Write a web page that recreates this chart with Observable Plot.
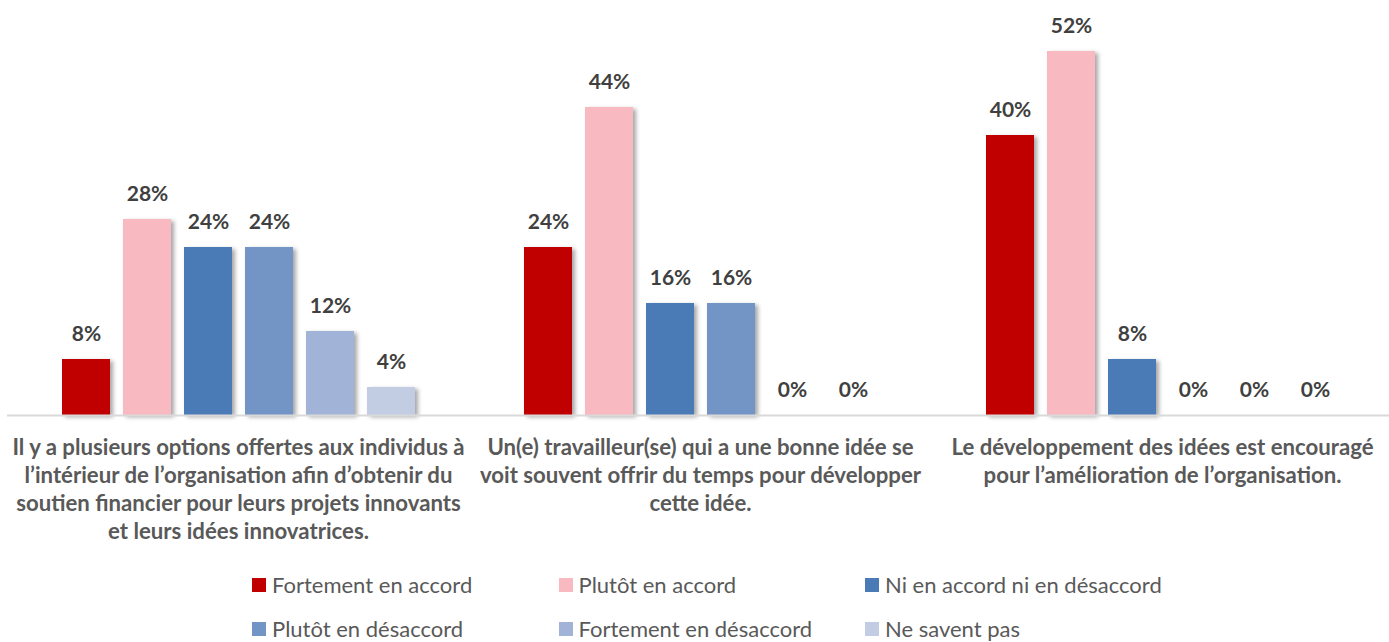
<!DOCTYPE html>
<html>
<head>
<meta charset="utf-8">
<script src="https://cdn.jsdelivr.net/npm/d3@7"></script>
<script src="https://cdn.jsdelivr.net/npm/@observablehq/plot@0.6"></script>
<style>
  html, body { margin: 0; padding: 0; background: #fff; }
  body { width: 1389px; height: 642px; overflow: hidden; font-family: Lato, "Open Sans", sans-serif; }
  #chart svg g[aria-label="bar"] rect { filter: drop-shadow(3px 2px 2px rgba(0,0,0,0.35)); }
  .legend { display: grid; grid-template-columns: repeat(3, 306.5px); row-gap: 20px; padding-left: 252px; margin-top: 18px; }
  .legend .item { display: flex; align-items: center; height: 24px; line-height: 24px; font-size: 22px; color: #595959; white-space: nowrap; }
  .legend .sw { width: 14px; height: 14px; margin-right: 6px; flex: none; }
</style>
</head>
<body>
<div id="chart"></div>
<div class="legend" id="legend"></div>
<script>
const categories = [
  "Il y a plusieurs options offertes aux individus à l’intérieur de l’organisation afin d’obtenir du soutien financier pour leurs projets innovants et leurs idées innovatrices.",
  "Un(e) travailleur(se) qui a une bonne idée se voit souvent offrir du temps pour développer cette idée.",
  "Le développement des idées est encouragé pour l’amélioration de l’organisation."
];
const categoryLabels = [
  "Il y a plusieurs options offertes aux individus à\nl’intérieur de l’organisation afin d’obtenir du\nsoutien financier pour leurs projets innovants\net leurs idées innovatrices.",
  "Un(e) travailleur(se) qui a une bonne idée se\nvoit souvent offrir du temps pour développer\ncette idée.",
  "Le développement des idées est encouragé\npour l’amélioration de l’organisation."
];
const series = [
  "Fortement en accord",
  "Plutôt en accord",
  "Ni en accord ni en désaccord",
  "Plutôt en désaccord",
  "Fortement en désaccord",
  "Ne savent pas"
];
const valuesCat1 = [8, 28, 24, 24, 12, 4];
const valuesCat2 = [24, 44, 16, 16, 0, 0];
const valuesCat3 = [40, 52, 8, 0, 0, 0];
const palette = ["#C00000", "#F9B9C1", "#4A7BB6", "#7395C6", "#A1B4D7", "#C2CDE3"];

const allValues = [valuesCat1, valuesCat2, valuesCat3];
const rows = [];
categories.forEach((c, i) => series.forEach((s, j) => rows.push({category: c, series: s, value: allValues[i][j]})));
const labelRows = categories.map((c, i) => ({category: c, label: categoryLabels[i]}));

const plot = Plot.plot({
  width: 1389,
  height: 555,
  marginLeft: 59,
  marginRight: 49,
  marginTop: 23,
  marginBottom: 140,
  style: {fontFamily: "Lato, 'Open Sans', sans-serif", background: "#fff"},
  fx: {domain: categories, paddingInner: 0.23, paddingOuter: 0, axis: null, label: null},
  x: {domain: series, paddingInner: 0.22, paddingOuter: 0, axis: null},
  y: {domain: [0, 56], axis: null},
  color: {domain: series, range: palette},
  marks: [
    Plot.barY(rows, {fx: "category", x: "series", y: "value", fill: "series"}),
    Plot.ruleY([0], {stroke: "#d9d9d9", strokeWidth: 2, insetLeft: -53, insetRight: -53}),
    Plot.text(rows, {fx: "category", x: "series", y: "value", text: d => d.value + "%", dy: -25,
      fontSize: 21, fontWeight: "bold", fill: "#404040"}),
    Plot.text(labelRows, {fx: "category", text: "label", frameAnchor: "bottom", lineAnchor: "top",
      dy: 20, fontSize: 22.2, fontWeight: "bold", fill: "#595959", lineHeight: 1.26})
  ]
});
document.getElementById("chart").appendChild(plot);

const legend = document.getElementById("legend");
series.forEach((s, i) => {
  const item = document.createElement("div");
  item.className = "item";
  const sw = document.createElement("span");
  sw.className = "sw";
  sw.style.background = palette[i];
  const t = document.createElement("span");
  t.textContent = s;
  item.appendChild(sw);
  item.appendChild(t);
  legend.appendChild(item);
});
</script>
</body>
</html>
